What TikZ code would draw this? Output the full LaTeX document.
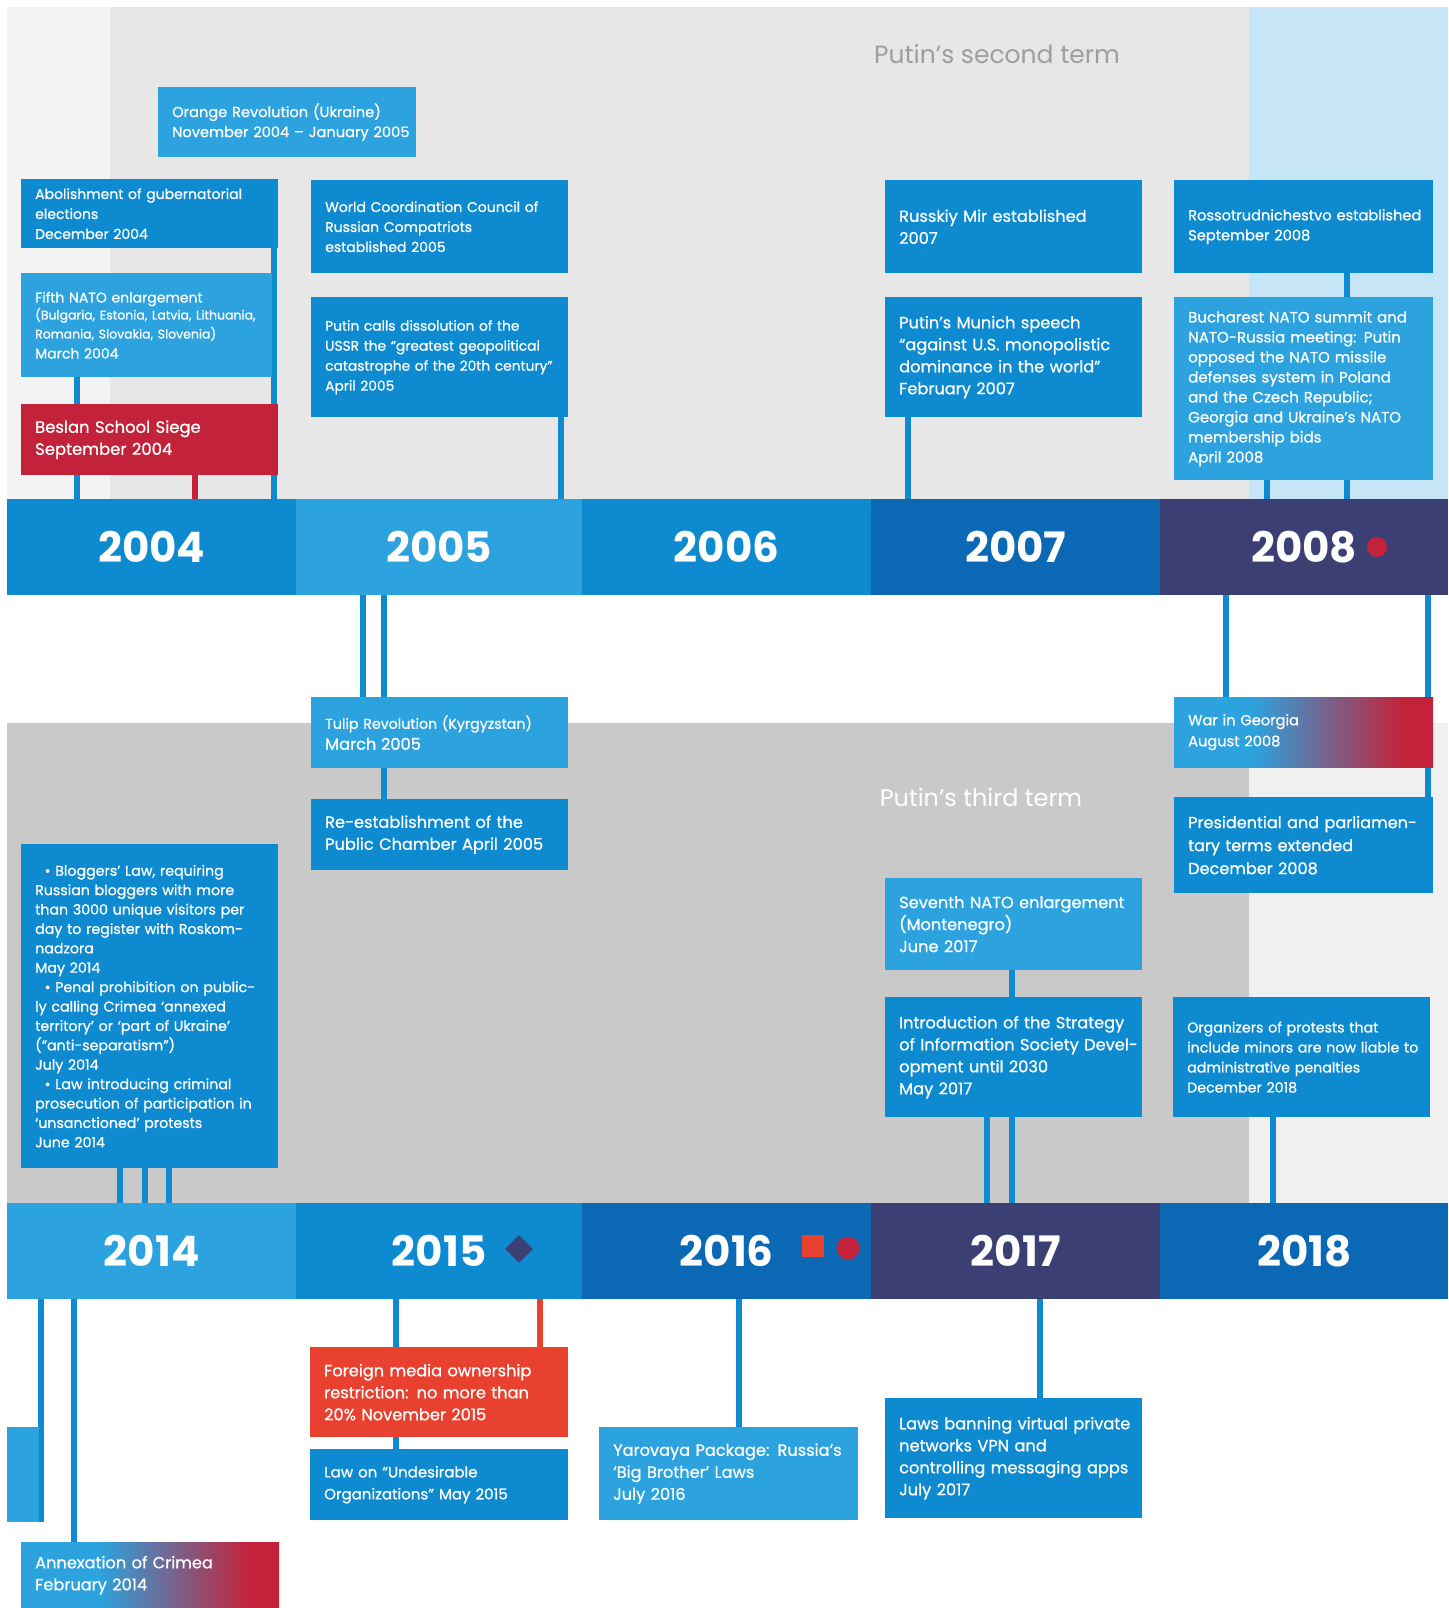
\documentclass[tikz,border=0pt]{standalone}
\usepackage{fontspec}
\setmainfont{Poppins}
\newfontfamily\evfont{Poppins}[FakeBold=0.8]
\usetikzlibrary{shapes.geometric}
\pgfdeclarelayer{back}
\pgfdeclarelayer{conn}
\pgfsetlayers{back,conn,main}
\definecolor{mb}{HTML}{0E8AD0}
\definecolor{lb}{HTML}{2CA3DF}
\definecolor{db}{HTML}{0A68B4}
\definecolor{nv}{HTML}{3B3F74}
\definecolor{crim}{HTML}{C2233B}
\definecolor{orr}{HTML}{E8412F}
\definecolor{gtop}{HTML}{E7E7E7}
\definecolor{gleft}{HTML}{F3F3F3}
\definecolor{skyb}{HTML}{C6E5F6}
\definecolor{gdark}{HTML}{C9C9C9}
\definecolor{gright}{HTML}{F0F0F0}
\definecolor{ttl}{HTML}{9E9E9E}
\pgfdeclarehorizontalshading{bluered}{100bp}{color(0bp)=(lb); color(25bp)=(lb); color(40bp)=(lb); color(69bp)=(crim); color(100bp)=(crim)}
\newcommand\fsz[2]{\evfont\fontsize{#1}{#2}\selectfont}
\newcommand\fM{\fsz{14}{20}}
\newcommand\fL{\fsz{16.2}{22}}
\newcommand\fYr{\fontsize{42}{42}\selectfont\bfseries}
\begin{document}
\begin{tikzpicture}[x=1pt,y=-1pt,
  evbox/.style={anchor=north west, inner xsep=0pt, inner ysep=0pt, align=left,
    text=white, text width=257pt, minimum height=#1,
    execute at begin node={\leftskip=14pt}},
  gradbox/.style={shading=bluered, shade},
  yearbox/.style={anchor=north west, inner sep=0pt, text=white, font=\fYr,
    minimum width=289pt, minimum height=96pt},
  conn/.style={line width=6pt, draw=mb},
  connred/.style={line width=6pt, draw=crim},
  connor/.style={line width=6pt, draw=orr}]
\useasboundingbox (0,0) rectangle (1448,1608);
\begin{pgfonlayer}{back}
\fill[white] (0,0) rectangle (1448,1608);
\fill[gleft] (7,7) rectangle (110,499);
\fill[gtop] (110,7) rectangle (1249,499);
\fill[skyb] (1249,7) rectangle (1448,499);
\fill[gdark] (7,723) rectangle (1249,1203);
\fill[gright] (1249,723) rectangle (1448,1203);
\end{pgfonlayer}

% titles
\node[text=ttl, font=\fontsize{25}{25}\selectfont] (t2) at (997,54) {Putin’s second term};
\node[text=white, font=\fontsize{24}{24}\selectfont] (t3) at (981,797) {Putin’s third term};

% year bands
\node[yearbox, fill=mb] (y2004) at (7,499) {2004};
\node[yearbox, fill=lb, minimum width=286pt] (y2005) at (296,499) {2005};
\node[yearbox, fill=mb] (y2006) at (582,499) {2006};
\node[yearbox, fill=db] (y2007) at (871,499) {2007};
\node[yearbox, fill=nv, minimum width=288pt] (y2008) at (1160,499) {2008};
\node[yearbox, fill=lb] (y2014) at (7,1203) {2014};
\node[yearbox, fill=mb, minimum width=286pt] (y2015) at (296,1203) {2015};
\node[yearbox, fill=db] (y2016) at (582,1203) {2016};
\node[yearbox, fill=nv] (y2017) at (871,1203) {2017};
\node[yearbox, fill=db, minimum width=288pt] (y2018) at (1160,1203) {2018};
\node[circle, fill=crim, minimum size=20pt, inner sep=0pt] (dot08) at (1377,547) {};
\node[diamond, aspect=1, fill=nv, minimum size=28pt, inner sep=0pt] (dm15) at (519,1249) {};
\node[rectangle, fill=orr, minimum size=22pt, inner sep=0pt] (sq16) at (813,1246) {};
\node[circle, fill=crim, minimum size=23pt, inner sep=0pt] (ci16) at (848,1248) {};

% top events
\node[evbox=70pt, fill=lb, font=\fsz{14.6}{20}, text width=258pt] (orange) at (158,87) {Orange Revolution (Ukraine)\\November 2004 – January 2005};
\node[evbox=69pt, fill=mb, font=\fM] (abol) at (21,179) {Abolishment of gubernatorial\\elections\\December 2004};
\node[evbox=104pt, fill=lb, font=\fM, text width=251pt] (fifth) at (21,273) {Fifth NATO enlargement\\[1pt]{\fsz{12.5}{16}(Bulgaria, Estonia, Latvia, Lithuania,\\[-1pt]Romania, Slovakia, Slovenia)}\\March 2004};
\node[evbox=71pt, fill=crim, font=\fsz{16.4}{22}] (beslan) at (21,404) {Beslan School Siege\\September 2004};
\node[evbox=93pt, fill=mb, font=\fM] (wcc) at (311,180) {World Coordination Council of\\Russian Compatriots\\established 2005};
\node[evbox=120pt, fill=mb, font=\fsz{13.8}{20}] (putcalls) at (311,297) {Putin calls dissolution of the\\USSR the “greatest geopolitical\\catastrophe of the 20th century”\\April 2005};
\node[evbox=93pt, fill=mb, font=\fL] (russkiy) at (885,180) {Russkiy Mir established\\2007};
\node[evbox=93pt, fill=mb, font=\fsz{14.6}{20}, text width=259pt] (rosso) at (1174,180) {Rossotrudnichestvo established\\September 2008};
\node[evbox=120pt, fill=mb, font=\fL] (munich) at (885,297) {Putin’s Munich speech\\“against U.S. monopolistic\\dominance in the world”\\February 2007};
\node[evbox=183pt, fill=lb, font=\fsz{15}{20}, text width=259pt] (buch) at (1174,297) {Bucharest NATO summit and\\NATO-Russia meeting: Putin\\opposed the NATO missile\\defenses system in Poland\\and the Czech Republic;\\Georgia and Ukraine’s NATO\\membership bids\\April 2008};

% middle events
\node[evbox=71pt, fill=lb, font=\fsz{14.2}{21}] (tulip) at (311,697) {Tulip Revolution (Kyrgyzstan)\\{\fL March 2005}};
\node[evbox=71pt, fill=mb, font=\fL] (reest) at (311,799) {Re-establishment of the\\Public Chamber April 2005};
\node[evbox=70pt, gradbox, font=\fsz{14.6}{21}, text width=259pt] (war) at (1174,697) {War in Georgia\\August 2008};
\node[evbox=96pt, fill=mb, font=\fsz{16.1}{23}, text width=259pt] (pres) at (1174,797) {Presidential and parliamen-\\tary terms extended\\December 2008};
\node[evbox=92pt, fill=lb, font=\fL] (seventh) at (885,878) {Seventh NATO enlargement\\(Montenegro)\\June 2017};
\node[evbox=120pt, fill=mb, font=\fL] (intro) at (885,997) {Introduction of the Strategy\\of Information Society Devel-\\opment until 2030\\May 2017};
\node[evbox=120pt, fill=mb, font=\fsz{14.2}{20}] (organ) at (1173,997) {Organizers of protests that\\include minors are now liable to\\administrative penalties\\December 2018};
\node[evbox=324pt, fill=mb, font=\fsz{14.2}{19.4}] (blog) at (21,844) {\ \ • Bloggers’ Law, requiring\\Russian bloggers with more\\than 3000 unique visitors per\\day to register with Roskom-\\nadzora\\May 2014\\\ \ • Penal prohibition on public-\\ly calling Crimea ‘annexed\\territory’ or ‘part of Ukraine’\\(“anti-separatism”)\\July 2014\\\ \ • Law introducing criminal\\prosecution of participation in\\‘unsanctioned’ protests\\June 2014};

% bottom events
\node[anchor=north west, fill=lb, minimum width=32pt, minimum height=95pt, inner sep=0pt] (leftbox) at (7,1427) {};
\node[evbox=66pt, gradbox, font=\fL, text width=258pt] (annex) at (21,1542) {Annexation of Crimea\\February 2014};
\node[evbox=90pt, fill=orr, font=\fL, text width=258pt] (foreign) at (310,1347) {Foreign media ownership\\restriction: no more than\\20\% November 2015};
\node[evbox=71pt, fill=mb, font=\fsz{15}{22}, text width=258pt] (law) at (310,1449) {Law on “Undesirable\\Organizations” May 2015};
\node[evbox=93pt, fill=lb, font=\fL, text width=259pt] (yarov) at (599,1427) {Yarovaya Package: Russia’s\\‘Big Brother’ Laws\\July 2016};
\node[evbox=120pt, fill=mb, font=\fL] (vpn) at (885,1398) {Laws banning virtual private\\networks VPN and\\controlling messaging apps\\July 2017};

% connectors
\begin{pgfonlayer}{conn}
\draw[conn] (77,0 |- fifth.south) -- (77,0 |- y2004.north);
\draw[connred] (195,0 |- beslan.south) -- (195,0 |- y2004.north);
\draw[conn] (274,0 |- abol.south) -- (274,0 |- y2004.north);
\draw[conn] (561,0 |- putcalls.south) -- (561,0 |- y2005.north);
\draw[conn] (908,0 |- munich.south) -- (908,0 |- y2007.north);
\draw[conn] (1347,0 |- rosso.south) -- (1347,0 |- buch.north);
\draw[conn] (1347,0 |- buch.south) -- (1347,0 |- y2008.north);
\draw[conn] (1267,0 |- buch.south) -- (1267,0 |- y2008.north);
\draw[conn] (363,0 |- y2005.south) -- (363,0 |- tulip.north);
\draw[conn] (384,0 |- y2005.south) -- (384,0 |- tulip.north);
\draw[conn] (384,0 |- tulip.south) -- (384,0 |- reest.north);
\draw[conn] (1226,0 |- y2008.south) -- (1226,0 |- war.north);
\draw[conn] (1428,0 |- y2008.south) -- (1428,0 |- pres.north);
\draw[conn] (1012,0 |- seventh.south) -- (1012,0 |- intro.north);
\draw[conn] (987,0 |- intro.south) -- (987,0 |- y2017.north);
\draw[conn] (1012,0 |- intro.south) -- (1012,0 |- y2017.north);
\draw[conn] (1273,0 |- organ.south) -- (1273,0 |- y2018.north);
\draw[conn] (120,0 |- blog.south) -- (120,0 |- y2014.north);
\draw[conn] (145,0 |- blog.south) -- (145,0 |- y2014.north);
\draw[conn] (169,0 |- blog.south) -- (169,0 |- y2014.north);
\draw[conn] (41,0 |- y2014.south) -- (41,0 |- leftbox.south);
\draw[conn] (74,0 |- y2014.south) -- (74,0 |- annex.north);
\draw[conn] (396,0 |- y2015.south) -- (396,0 |- foreign.north);
\draw[connor] (540,0 |- y2015.south) -- (540,0 |- foreign.north);
\draw[conn] (396,0 |- foreign.south) -- (396,0 |- law.north);
\draw[conn] (739,0 |- y2016.south) -- (739,0 |- yarov.north);
\draw[conn] (1040,0 |- y2017.south) -- (1040,0 |- vpn.north);
\end{pgfonlayer}
\end{tikzpicture}
\end{document}
